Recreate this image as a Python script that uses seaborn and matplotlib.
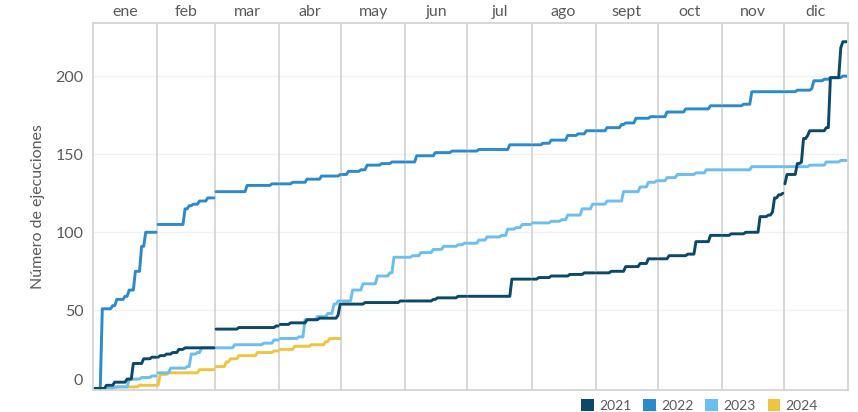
import bisect
import numpy as np
import pandas as pd
import matplotlib
matplotlib.use("Agg")
import matplotlib.pyplot as plt
from matplotlib.patches import Patch
import seaborn as sns

# ---------------- data ----------------
months = ["ene", "feb", "mar", "abr", "may", "jun", "jul", "ago", "sept", "oct", "nov", "dic"]
month_starts = [0, 31, 59, 90, 120, 151, 181, 212, 243, 273, 304, 334, 365]
years = ["2021", "2022", "2023", "2024"]
colors = {"2021": "#0b4869", "2022": "#2b8acd", "2023": "#6cbdf0", "2024": "#eec441"}

# cumulative count: from day-of-year `days[i]` on, the total is `vals[i]`
days_2021 = [0, 6, 10, 16, 19, 24, 28, 32, 35, 38, 41, 44, 59, 70, 88, 90, 95, 103, 109, 118, 119,
             131, 148, 164, 166, 176, 202, 215, 221, 230, 237, 250, 257, 264, 268, 278, 287, 291, 298,
             308, 315, 322, 326, 328, 329, 331, 333, 334, 335, 340, 342, 343, 345, 346, 354, 356, 361, 362]
vals_2021 = [0, 2, 4, 6, 16, 19, 20, 21, 22, 23, 25, 26, 38, 39, 40, 41, 42, 44, 45, 47, 54,
             55, 56, 57, 58, 59, 70, 71, 72, 73, 74, 75, 78, 80, 83, 85, 86, 94, 98,
             99, 100, 110, 111, 113, 122, 124, 125, 131, 137, 144, 145, 160, 162, 165, 167, 199, 218, 222]

days_2022 = [0, 4, 9, 11, 15, 17, 20, 23, 25, 31, 44, 46, 48, 51, 55, 59, 74, 86, 96, 103, 110, 119,
             123, 129, 132, 139, 144, 156, 165, 173, 186, 201, 217, 221, 229, 234, 238, 248, 255, 257,
             262, 269, 277, 286, 298, 314, 318, 340, 347, 348, 353, 356, 362]
vals_2022 = [0, 51, 53, 57, 59, 63, 75, 91, 100, 105, 115, 117, 118, 120, 122, 126, 130, 131, 132, 134, 136, 137,
             139, 140, 143, 144, 145, 149, 151, 152, 153, 156, 157, 159, 162, 163, 165, 167, 169, 170,
             173, 174, 177, 179, 181, 182, 190, 191, 192, 197, 198, 199, 200]

days_2023 = [0, 10, 17, 23, 28, 31, 37, 45, 47, 50, 52, 68, 82, 87, 90, 99, 102, 108, 113, 116, 118,
             125, 130, 137, 143, 145, 154, 158, 164, 169, 176, 179, 186, 190, 197, 200, 204, 207,
             212, 221, 226, 229, 236, 241, 248, 256, 264, 268, 272, 277, 282, 291, 296, 318, 346, 354, 361]
vals_2023 = [0, 1, 6, 7, 8, 10, 13, 14, 22, 23, 26, 28, 29, 31, 32, 33, 44, 46, 48, 54, 56,
             63, 67, 72, 74, 84, 85, 87, 89, 91, 92, 93, 95, 97, 98, 102, 103, 105,
             106, 107, 108, 111, 115, 118, 120, 126, 129, 132, 133, 135, 137, 138, 140, 142, 143, 145, 146]

days_2024 = [0, 11, 22, 32, 36, 51, 59, 64, 66, 70, 79, 87, 90, 97, 105, 112, 114]
vals_2024 = [0, 1, 2, 9, 10, 12, 14, 17, 19, 21, 23, 24, 25, 27, 28, 30, 32]

last_day = {"2021": 365, "2022": 365, "2023": 365, "2024": 120}
series = {"2021": (days_2021, vals_2021), "2022": (days_2022, vals_2022),
          "2023": (days_2023, vals_2023), "2024": (days_2024, vals_2024)}

rows = []
for y, (ds, vs) in series.items():
    for d in range(last_day[y]):
        i = bisect.bisect_right(ds, d) - 1
        m = bisect.bisect_right(month_starts, d) - 1
        rows.append((y, d + 0.5, vs[i], m))
df = pd.DataFrame(rows, columns=["year", "day", "value", "month"])

# ---------------- plot ----------------
sns.set_theme(style="white")
plt.rcParams["font.family"] = ["Lato", "DejaVu Sans"]
txt = "#5a5a5a"

fig, ax = plt.subplots(figsize=(8.58, 4.12), dpi=100)
fig.subplots_adjust(left=93 / 858, right=848 / 858, bottom=1 - 390 / 412, top=1 - 23 / 412)

for v in [50, 100, 150, 200]:
    ax.axhline(v, color="#f1f1f1", lw=1.0, zorder=0)
for b in month_starts[1:-1]:
    ax.axvline(b, color="#d4d4d4", lw=1.3, zorder=0)

sns.lineplot(data=df, x="day", y="value", hue="year", units="month", estimator=None,
             hue_order=years[::-1], palette=colors, linewidth=2.1, legend=False, ax=ax)

ax.set_xlim(0, 365)
ax.set_ylim(-1, 234)

for s in ax.spines.values():
    s.set_color("#d4d4d4")
    s.set_linewidth(1.3)

centers = [(a + b) / 2 for a, b in zip(month_starts[:-1], month_starts[1:])]
ax.xaxis.tick_top()
ax.set_xticks(centers)
ax.set_xticklabels(months)
ax.tick_params(axis="x", length=0, pad=3, labelsize=11.5, colors=txt)
ax.set_xlabel("")

ax.set_yticks([0, 50, 100, 150, 200])
ax.set_yticklabels(["0", "50", "100", "150", "200"])
ax.tick_params(axis="y", length=0, pad=7, labelsize=11.5, colors=txt)
ax.get_yticklabels()[0].set_va("bottom")
ax.set_ylabel("Número de ejecuciones", color=txt, fontsize=11.5)
ax.yaxis.set_label_coords(-0.063, 0.5)

handles = [Patch(facecolor=colors[y], edgecolor="none") for y in years]
fig.legend(handles, years, loc="upper left", bbox_to_anchor=(581 / 858, 1 - 399 / 412), ncol=4,
           frameon=False, fontsize=10, handlelength=0.9, handleheight=0.9, handletextpad=0.4,
           columnspacing=0.85, borderpad=0, borderaxespad=0, labelcolor=txt)

fig.savefig("out.png", dpi=100)
